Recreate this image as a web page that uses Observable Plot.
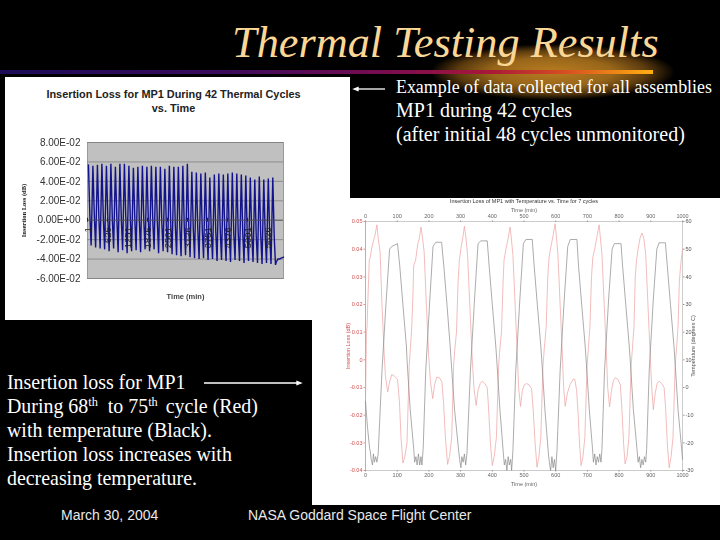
<!DOCTYPE html>
<html><head><meta charset="utf-8">
<script src="https://cdn.jsdelivr.net/npm/d3@7"></script>
<script src="https://cdn.jsdelivr.net/npm/@observablehq/plot@0.6"></script>
<style>
html,body{margin:0;padding:0;background:#000;width:720px;height:540px;overflow:hidden}
.t{position:absolute;white-space:nowrap;font-family:"Liberation Serif",serif;color:#fff}
.a{font-family:"Liberation Sans",sans-serif}
sup{font-size:62%;line-height:0;vertical-align:baseline;position:relative;top:-.55em}
#c1,#c2{position:absolute}
#c1 svg,#c2 svg{display:block;background:#fff}
#c2{filter:blur(.35px)}
#c1{filter:blur(.3px)}
</style></head><body>
<div id="glow" style="position:absolute;left:430px;top:44px;width:245px;height:56px;background:radial-gradient(ellipse closest-side,#b87c20 0%,#98661a 50%,#5a3a0e 78%,rgba(0,0,0,0) 100%)"></div>
<div id="bar" style="position:absolute;left:0;top:70px;width:653px;height:4px;background:linear-gradient(90deg,#1c0c58 0%,#3c0c5c 35%,#7c0c50 60%,#a81838 75%,#d85020 87%,#ffb010 100%)"></div>
<div class="t" style="left:232px;top:17px;font-size:44.3px;font-style:italic;color:#fbd797">Thermal Testing Results</div>
<div id="c1" style="left:5px;top:77px"></div>
<div id="c2" style="left:312px;top:198px"></div>
<div class="t a" style="left:5px;top:87px;width:345px;text-align:center;font-size:10.9px;font-weight:bold;color:#222;line-height:14px;white-space:normal;padding-right:8px;box-sizing:border-box">Insertion Loss for MP1 During 42 Thermal Cycles<br>vs. Time</div>
<div class="t" style="left:396px;top:77px;font-size:17.9px">Example of data collected for all assemblies</div>
<div class="t" style="left:396px;top:99px;font-size:20px">MP1 during 42 cycles</div>
<div class="t" style="left:396px;top:123px;font-size:20px">(after initial 48 cycles unmonitored)</div>
<div class="t" style="left:7px;top:371px;font-size:19.9px">Insertion loss for MP1</div>
<div class="t" style="left:7px;top:395px;font-size:19.9px">During 68<sup>th</sup> <span style="margin-left:5px">to 75</span><sup style="margin-right:3px">th</sup> cycle (Red)</div>
<div class="t" style="left:7px;top:419px;font-size:19.9px">with temperature (Black).</div>
<div class="t" style="left:7px;top:443px;font-size:19.9px">Insertion loss increases with</div>
<div class="t" style="left:7px;top:467px;font-size:19.9px">decreasing temperature.</div>
<div class="t a" style="left:61px;top:507px;font-size:14px;color:#e8e8e8">March 30, 2004</div>
<div class="t a" style="left:248px;top:507px;font-size:14px;color:#e8e8e8">NASA Goddard Space Flight Center</div>
<svg style="position:absolute;left:0;top:0" width="720" height="540">
<g stroke="#fff" stroke-width="1.3" fill="#fff">
<line x1="385" y1="89" x2="357" y2="89"/><path d="M354 89l4-1.6v3.2z"/>
<line x1="204" y1="383" x2="298" y2="383"/><path d="M301 383l-4-1.6v3.2z"/>
</g></svg>
<script>
// Left chart: insertion loss per thermal cycle (dB)
const cycleTime=[30,170,311,451,592,732,873,1013,1154,1294,1435,1575,1716,1856,1997,2137,2278,2418,2559,2699,2840,2980,3121,3261,3402,3542,3683,3823,3964,4104,4245,4385,4526,4666,4807,4947,5088,5228,5369,5509,5650,5790];
const peakLoss=[.057,.056,.057,.058,.056,.058,.055,.058,.058,.056,.054,.055,.056,.055,.056,.055,.055,.053,.056,.055,.055,.056,.058,.050,.049,.048,.049,.044,.047,.048,.047,.048,.049,.048,.047,.046,.044,.042,.045,.042,.043,.044];
const plateauLoss=[.005,.004,.003,.002,.002,.001,.002,.001,0,.001,0,0,-.001,.001,-.002,-.001,-.003,-.004,-.006,-.005,-.007,-.008,-.007,-.009,-.009,-.010,-.010,-.011,-.012,-.011,-.013,-.013,-.014,-.014,-.013,-.015,-.015,-.016,-.016,-.017,-.016,-.017];
const troughLoss=[-.026,-.028,-.029,-.030,-.032,-.029,-.033,-.031,-.034,-.032,-.031,-.033,-.030,-.032,-.030,-.034,-.032,-.033,-.035,-.036,-.037,-.036,-.038,-.039,-.040,-.039,-.041,-.040,-.042,-.041,-.042,-.043,-.041,-.042,-.044,-.042,-.043,-.044,-.045,-.044,-.045,-.046];
const tailTime=[5900,5950,6000,6050,6125];
const tailLoss=[-.043,-.040,-.040,-.039,-.038];
const axisMinutes=[1,626,1251,1876,2501,3126,3751,4376,5001,5626];
const lossTicks1=[-.06,-.04,-.02,0,.02,.04,.06,.08];
const lossLabels1=["-6.00E-02","-4.00E-02","-2.00E-02","0.00E+00","2.00E-02","4.00E-02","6.00E-02","8.00E-02"];

// Right chart: insertion loss (red) and temperature (black)
const redTime=[0,3,5,7,12,15,19,25,30,36,40,46,52,59,63,70,76,83,92,101,107,112,118,124,131,138,141,
146,150,152,158,165,170,175,180,185,192,199,205,212,218,225,233,241,246,252,259,265,272,278,282,
287,292,296,302,307,312,317,322,329,336,342,349,355,362,368,376,384,388,394,400,406,413,420,424,
429,434,437,443,450,456,460,465,472,479,483,489,495,501,508,516,524,529,535,541,547,553,560,564,
570,575,579,585,592,598,602,607,614,621,625,630,637,645,655,660,666,671,675,680,686,692,699,703,
708,713,717,723,731,737,741,746,753,760,764,770,776,782,788,796,804,809,814,819,825,831,838,842,
847,851,855,860,866,872,878,884,891,898,903,908,914,920,926,934,942,947,952,958,964,970,977,981,986,990,994,998,1000];
const redLoss=[-.015,.01,.012,.02,.036,.037,.04,.043,.045,.0488,.044,.039,.02,.002,-.006,-.0116,-.008,-.0053,-.006,-.007,-.015,-.028,-.0373,-.035,-.03,-.002,.003,
.012,.025,.034,.036,.042,.044,.048,.044,.039,.02,.002,-.008,-.014,-.009,-.0062,-.0065,-.008,-.015,-.028,-.0378,-.035,-.028,-.002,.004,
.01,.028,.036,.041,.044,.0483,.044,.038,.02,.002,-.01,-.0165,-.011,-.0085,-.0077,-.0085,-.01,-.017,-.03,-.0382,-.035,-.028,-.002,.004,
.01,.028,.036,.04,.044,.048,.044,.038,.02,.002,-.01,-.0168,-.011,-.009,-.0086,-.009,-.0105,-.018,-.03,-.0388,-.035,-.028,-.002,.004,
.012,.03,.037,.041,.045,.0492,.045,.038,.02,.002,-.01,-.0168,-.012,-.009,-.007,-.007,-.011,-.02,-.03,-.0382,-.035,-.028,-.002,.004,
.012,.03,.037,.04,.045,.0488,.044,.038,.02,.002,-.01,-.017,-.011,-.0075,-.0065,-.007,-.009,-.018,-.03,-.0376,-.035,-.028,-.002,.004,
.012,.03,.036,.04,.044,.0458,.044,.038,.02,.002,-.01,-.018,-.012,-.0085,-.0077,-.0085,-.01,-.018,-.03,-.039,-.035,-.028,-.002,.004,.012,.028,.034,.038,.04];
const tempTime=[0,6,13,15,18,22,25,28,32,36,40,52,65,76,83,101,108,118,129,131,141,
152,155,159,163,167,171,175,178,182,190,203,213,222,240,247,257,267,270,281,
294,297,301,304,308,312,316,320,331,344,355,364,384,390,400,411,414,424,
435,438,442,446,450,454,458,461,465,474,487,498,506,526,532,542,553,556,566,
577,580,584,588,592,596,600,604,614,627,638,646,667,672,682,693,696,706,
716,719,723,727,731,735,739,743,746,754,767,778,785,806,811,821,832,835,845,
857,860,864,868,872,876,880,884,887,895,908,919,926,946,952,962,973,976,986,998,1000];
const tempDeg=[-5,-14,-22,-23,-26,-28,-24,-27,-25,-27,-24,6,31,50,51,52,44,30,15,10,-8,
-22,-27,-25,-28,-24,-28,-25,-28,-22,6,32,51,52.5,52.5,44,30,15,10,-8,
-23,-26,-29,-25,-27,-24,-28,-24,6,32,52,53,53,44,30,15,10,-8,
-24,-28,-26,-30,-25,-28,-26,-30,-23,6,32,52,53.5,53.5,44,30,15,10,-8,
-24,-27,-30,-25,-29,-26,-30,-23,6,32,51,53.5,53.5,44,30,15,10,-8,
-22,-27,-24,-28,-25,-27,-24,-27,-22,6,32,50,52,52,44,30,15,10,-8,
-23,-27,-25,-29,-26,-28,-25,-27,-22,6,32,50,52.3,52.3,44,30,15,10,-8,-23,-26];
const timeTicks=[0,100,200,300,400,500,600,700,800,900,1000];
const lossTicks2=[-.04,-.03,-.02,-.01,0,.01,.02,.03,.04,.05];
const tempLabels=[-30,-20,-10,0,10,20,30,40,50,60];

const cycleRows=cycleTime.flatMap((t,i)=>[
  {t,v:peakLoss[i]},
  {t:t+45,v:plateauLoss[i]},
  {t:t+85,v:troughLoss[i]}
]).concat(tailTime.map((t,i)=>({t,v:tailLoss[i]})));

const chart1=Plot.plot({
  width:345,height:243,marginLeft:82,marginRight:67,marginTop:65,marginBottom:42,
  style:{background:"#fff",fontFamily:"Liberation Sans, sans-serif"},
  x:{type:"linear",domain:[1,6125]},
  y:{type:"linear",domain:[-.06,.08]},
  marks:[
    Plot.frame({fill:"#c0c0c0",stroke:"#9a9a9a"}),
    Plot.ruleY(lossTicks1,{stroke:"#808080",strokeWidth:.8}),
    Plot.axisY(lossTicks1,{anchor:"left",tickSize:0,tickPadding:7,fontSize:10,fill:"#333",
      tickFormat:d=>lossLabels1[lossTicks1.findIndex(v=>Math.abs(v-d)<1e-9)],label:null}),
    Plot.axisX([],{anchor:"bottom",label:"Time (min)",labelAnchor:"center",labelArrow:"none",labelOffset:20,fontSize:7.5,fontWeight:"bold",fill:"#444",tickSize:0,dx:-2}),
    Plot.axisY([],{anchor:"left",label:"Insertion Loss (dB)",labelAnchor:"center",labelArrow:"none",labelOffset:66,fontSize:6.5,fontWeight:"bold",fontFamily:"Liberation Serif",fill:"#222",tickSize:0}),
    Plot.line(cycleRows,{x:"t",y:"v",stroke:"#12128c",strokeWidth:1.4,strokeLinejoin:"miter"}),
    Plot.ruleY([0],{stroke:"#555",strokeWidth:.8}),
    Plot.ruleX(axisMinutes,{x:d=>d,y1:.002,y2:-.002,stroke:"#222"}),
    Plot.text(axisMinutes,{x:d=>d,y:0,text:d=>String(d),rotate:-90,textAnchor:"end",dy:7,fontSize:9.5,fill:"#222"})
  ]
});
document.getElementById("c1").append(chart1);

const chart2=Plot.plot({
  width:408,height:307,marginLeft:53,marginRight:38,marginTop:23,marginBottom:35,
  style:{background:"#fff",fontFamily:"Liberation Sans, sans-serif"},
  x:{type:"linear",domain:[0,1000]},
  y:{type:"linear",domain:[-.04,.05]},
  marks:[
    Plot.frame({stroke:"#aaa",strokeWidth:.6}),
    Plot.ruleX([0],{stroke:"#e09090",strokeWidth:.7}),
    Plot.axisX(timeTicks,{anchor:"bottom",tickSize:1.5,tickPadding:1,fontSize:5.5,fill:"#666",stroke:"#999",
      label:"Time (min)",labelAnchor:"center",labelArrow:"none",labelOffset:15,tickFormat:d=>String(d)}),
    Plot.axisX(timeTicks,{anchor:"top",tickSize:1.5,tickPadding:2.5,fontSize:5.5,fill:"#666",stroke:"#999",
      label:"Time (min)",labelAnchor:"center",labelArrow:"none",labelOffset:13,tickFormat:d=>String(d)}),
    Plot.axisY(lossTicks2,{anchor:"left",tickSize:1.5,tickPadding:1.5,fontSize:5.5,fill:"#d05050",stroke:"#e09090",
      label:"Insertion Loss (dB)",labelAnchor:"center",labelArrow:"none",labelOffset:19,
      tickFormat:d=>Math.abs(d)<1e-9?"0":d.toFixed(2)}),
    Plot.axisY(lossTicks2,{anchor:"right",tickSize:1.5,tickPadding:1.5,fontSize:5.5,fill:"#555",stroke:"#999",
      label:"Temperature (degrees C)",labelAnchor:"center",labelArrow:"none",labelOffset:12,
      tickFormat:d=>String(tempLabels[lossTicks2.findIndex(v=>Math.abs(v-d)<1e-9)])}),
    Plot.text(["Insertion Loss of MP1 with Temperature vs. Time for 7 cycles"],{frameAnchor:"top",dy:-22,fontSize:5.5,fill:"#333"}),
    Plot.line(redTime,{x:d=>d,y:(d,i)=>redLoss[i],stroke:"#eca0a0",strokeWidth:.7}),
    Plot.line(tempTime,{x:d=>d,y:(d,i)=>(tempDeg[i]-10)/1000,stroke:"#888",strokeWidth:.7})
  ]
});
document.getElementById("c2").append(chart2);
</script>
</body></html>
